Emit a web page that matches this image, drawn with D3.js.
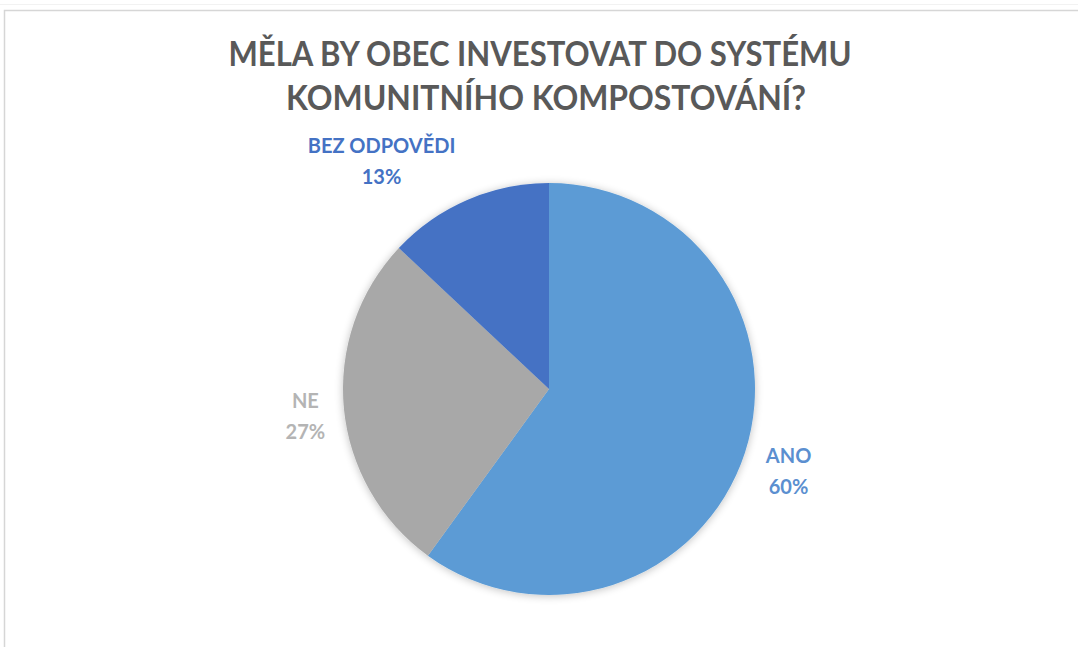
<!DOCTYPE html>
<html><head><meta charset="utf-8">
<script src="https://cdn.jsdelivr.net/npm/d3@7"></script>
<style>html,body{margin:0;padding:0;background:#fff;}svg{display:block;}</style>
</head><body>
<script>
const categories = ["ANO", "NE", "BEZ ODPOVĚDI"];
const values = [60, 27, 13];
const colors = ["#5B9BD5", "#A8A8A8", "#4472C4"];
const labelColors = ["#5B8FD0", "#B4B4B4", "#4472C4"];
const titleLines = ["MĚLA BY OBEC INVESTOVAT DO SYSTÉMU", "KOMUNITNÍHO KOMPOSTOVÁNÍ?"];

const W = 1078, H = 647;
const cx = 549, cy = 389, R = 206;
// label placement: radius factor and angle nudge (degrees) per slice
const labelLayout = [{k:1.23, da:1}, {k:1.19, da:-1}, {k:1.37, da:-13}];

const svg = d3.select("body").append("svg").attr("width", W).attr("height", H);
const defs = svg.append("defs");
const f = defs.append("filter").attr("id","sh").attr("x","-20%").attr("y","-20%").attr("width","140%").attr("height","140%");
f.append("feGaussianBlur").attr("in","SourceAlpha").attr("stdDeviation",4).attr("result","b");
f.append("feOffset").attr("in","b").attr("dx",0).attr("dy",1).attr("result","o");
f.append("feComponentTransfer").attr("in","o").attr("result","t")
  .append("feFuncA").attr("type","linear").attr("slope",0.25);
const m = f.append("feMerge"); m.append("feMergeNode").attr("in","t"); m.append("feMergeNode").attr("in","SourceGraphic");

svg.append("rect").attr("x",0).attr("y",0).attr("width",W).attr("height",H).attr("fill","#fff");
// frame
svg.append("line").attr("x1",0).attr("x2",W).attr("y1",4.5).attr("y2",4.5).attr("stroke","#f2f2f2");
svg.append("path").attr("d",`M4.5,${H} L4.5,10.5 L${W},10.5`).attr("fill","none").attr("stroke","#d6d6d6").attr("stroke-width",1.5);

// title (condensed to match a Calibri-like width)
const titleG = svg.append("g");
const tY = [66, 110];
const tX = [540, 546];
const tW = [623, 520];
titleLines.forEach((t,i)=>{
  titleG.append("text").attr("x",tX[i]).attr("y",tY[i]).attr("text-anchor","middle")
    .attr("font-family","Lato, 'Open Sans', sans-serif").attr("font-weight","bold")
    .attr("font-size",35).attr("fill","#595959")
    .attr("textLength",tW[i]).attr("lengthAdjust","spacingAndGlyphs").text(t);
});

const pie = d3.pie().value(d=>d).sort(null);
const arcs = pie(values);
const arc = d3.arc().innerRadius(0).outerRadius(R);

const g = svg.append("g").attr("transform",`translate(${cx},${cy})`);
g.append("g").attr("filter","url(#sh)").selectAll("path").data(arcs).join("path")
  .attr("d",arc).attr("fill",(d,i)=>colors[i]);

const lg = g.append("g");
arcs.forEach((d,i)=>{
  const a = (d.startAngle + d.endAngle)/2 + labelLayout[i].da*Math.PI/180;
  const r = R*labelLayout[i].k;
  const x = r*Math.sin(a), y = -r*Math.cos(a);
  const pct = Math.round(100*d.value/d3.sum(values)) + "%";
  const t = lg.append("text").attr("x",x).attr("y",y).attr("text-anchor","middle")
    .attr("font-family","Lato, 'Open Sans', sans-serif").attr("font-weight","bold")
    .attr("font-size",20).attr("fill",labelColors[i]);
  t.append("tspan").attr("x",x).attr("dy","-0.42em").text(categories[i]);
  t.append("tspan").attr("x",x).attr("dy","1.55em").text(pct);
});
</script>
</body></html>
